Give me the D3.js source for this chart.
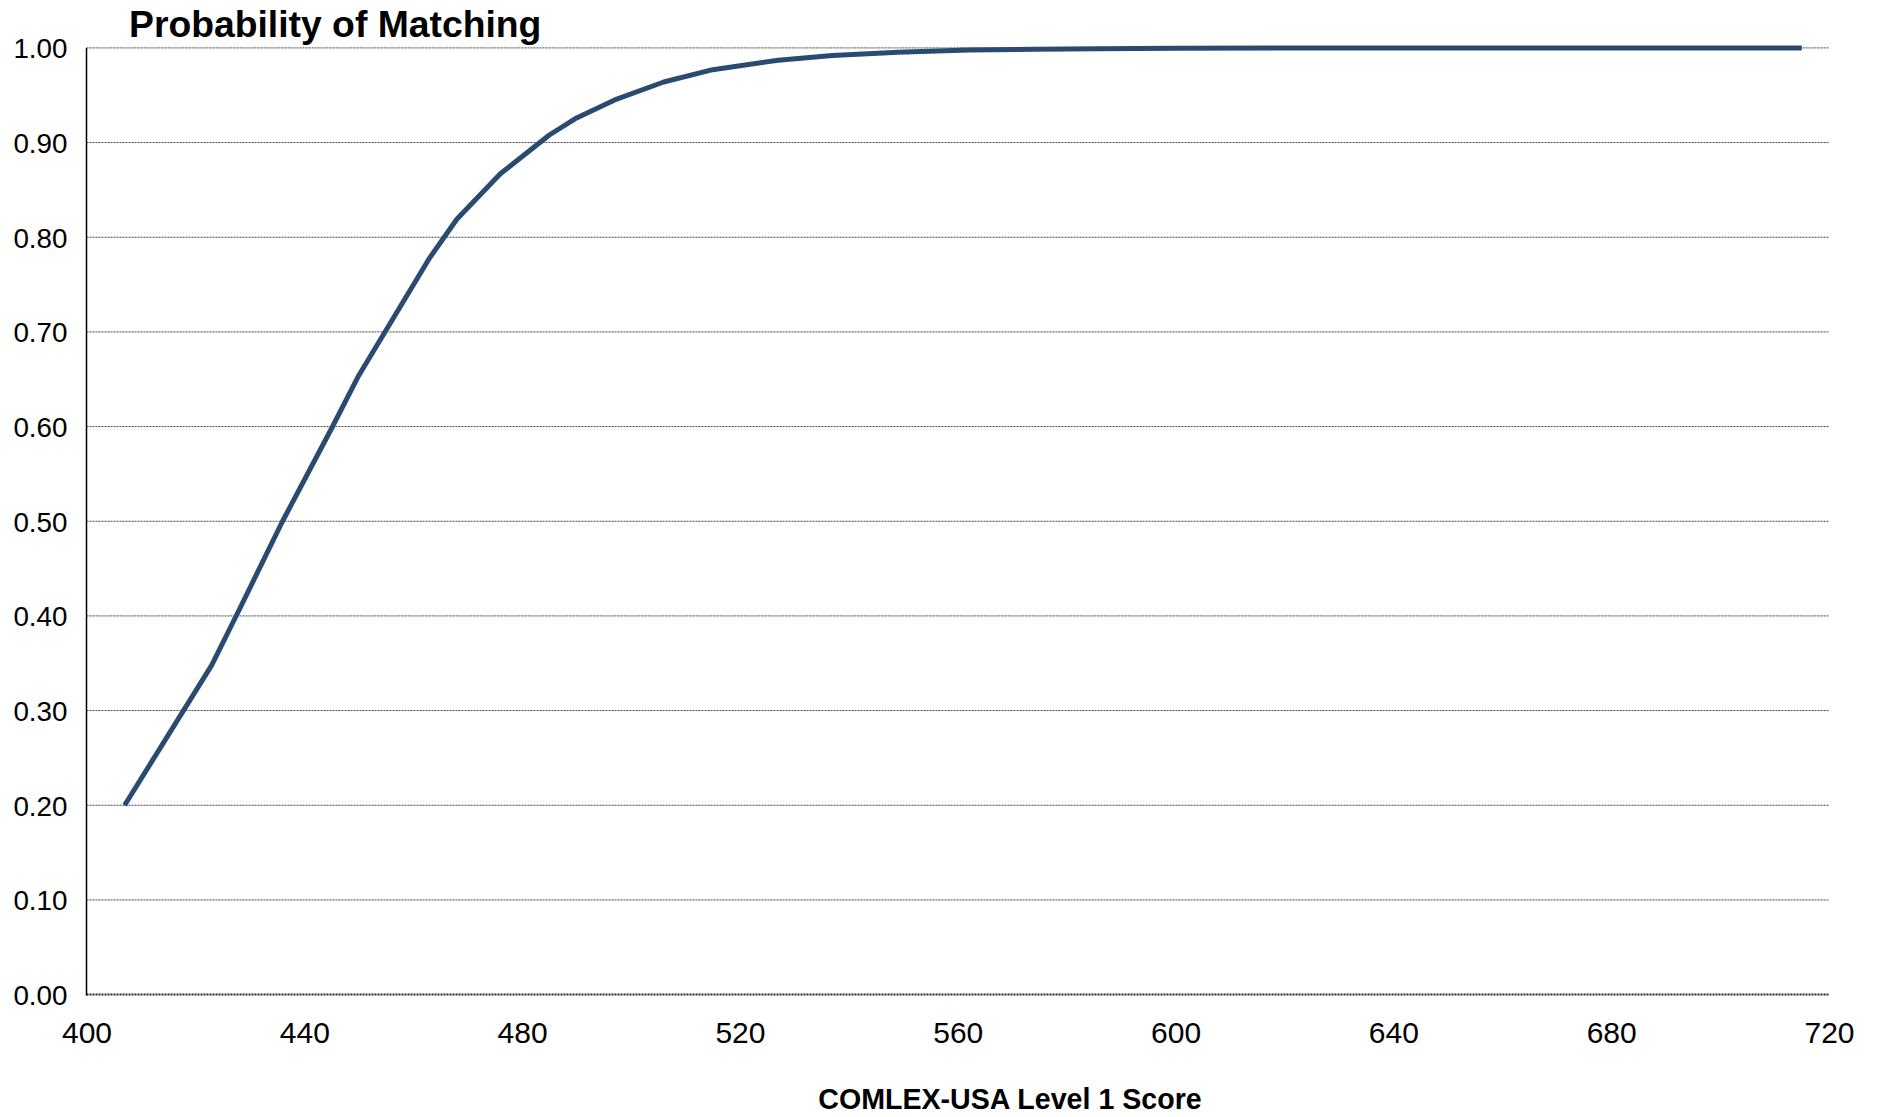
<!DOCTYPE html>
<html>
<head>
<meta charset="utf-8">
<script src="https://cdn.jsdelivr.net/npm/d3@7"></script>
<style>
  html, body { margin: 0; padding: 0; background: #ffffff; }
  svg { display: block; }
  text { font-family: "Liberation Sans", Arial, Helvetica, sans-serif; fill: #000; }
</style>
</head>
<body>
<svg id="chart" width="1879" height="1117"></svg>
<script>
// ---- Data ----
const scores = [407, 423, 428, 436, 445, 450, 463, 468, 476, 485, 490, 497, 506, 515, 527, 537, 549, 562, 574, 586, 600, 620, 650, 680, 715];
const probabilities = [0.200, 0.348, 0.406, 0.500, 0.598, 0.654, 0.778, 0.819, 0.867, 0.908, 0.926, 0.945, 0.964, 0.977, 0.987, 0.992, 0.9955, 0.9977, 0.9986, 0.9992, 0.9996, 0.9998, 0.9999, 1.000, 1.000];
const xTicks = [400, 440, 480, 520, 560, 600, 640, 680, 720];
const yTicks = [0, 0.1, 0.2, 0.3, 0.4, 0.5, 0.6, 0.7, 0.8, 0.9, 1.0];
const chartTitle = "Probability of Matching";
const xAxisTitle = "COMLEX-USA Level 1 Score";

// ---- Layout ----
const svg = d3.select("#chart");
const plotLeft = 86.5, plotRight = 1829, plotTop = 47.9, plotBottom = 994.6;

const x = d3.scaleLinear().domain([400, 720]).range([plotLeft, plotRight]);
const y = d3.scaleLinear().domain([0, 1]).range([plotBottom, plotTop]);

// Gridlines
svg.append("g")
  .selectAll("line")
  .data(yTicks)
  .join("line")
  .attr("x1", plotLeft)
  .attr("x2", plotRight)
  .attr("y1", d => y(d))
  .attr("y2", d => y(d))
  .attr("stroke", d => d === 0 ? "#222" : "#444")
  .attr("stroke-width", d => d === 0 ? 2 : 1)
  .attr("stroke-dasharray", "2,1");

// Left axis line
svg.append("line")
  .attr("x1", plotLeft).attr("x2", plotLeft)
  .attr("y1", y(1)).attr("y2", y(0) + 1)
  .attr("stroke", "#000")
  .attr("stroke-width", 1.5);

// Y axis labels
const yAxis = d3.axisLeft(y).tickValues(yTicks).tickSize(0).tickFormat(d3.format(".2f"));
const gy = svg.append("g").attr("transform", `translate(${plotLeft},0)`).call(yAxis);
gy.select(".domain").remove();
gy.selectAll("text")
  .attr("x", -19)
  .attr("dy", "0.36em")
  .style("font-size", "27.8px")
  .style("font-family", "'Liberation Sans', Arial, sans-serif")
  .attr("fill", "#000");

// X axis labels
const xAxis = d3.axisBottom(x).tickValues(xTicks).tickSize(0).tickFormat(d3.format("d"));
const gx = svg.append("g").attr("transform", `translate(0,${plotBottom})`).call(xAxis);
gx.select(".domain").remove();
gx.selectAll("text")
  .attr("y", 48)
  .attr("dy", 0)
  .style("font-size", "30px")
  .style("font-family", "'Liberation Sans', Arial, sans-serif")
  .attr("fill", "#000");

// Line
const lineData = scores.map((s, i) => ({ s, p: probabilities[i] }));
const lineGen = d3.line().x(d => x(d.s)).y(d => y(d.p)).curve(d3.curveLinear);
svg.append("path")
  .datum(lineData)
  .attr("d", lineGen)
  .attr("fill", "none")
  .attr("stroke", "#2b4a70")
  .attr("stroke-width", 5)
  .attr("stroke-linejoin", "round");

// Title
svg.append("text")
  .attr("x", 129)
  .attr("y", 36.5)
  .style("font-size", "37.3px")
  .style("font-weight", "bold")
  .text(chartTitle);

// X axis title
svg.append("text")
  .attr("x", 1010)
  .attr("y", 1109)
  .attr("text-anchor", "middle")
  .style("font-size", "28.6px")
  .style("font-weight", "bold")
  .text(xAxisTitle);
</script>
</body>
</html>
